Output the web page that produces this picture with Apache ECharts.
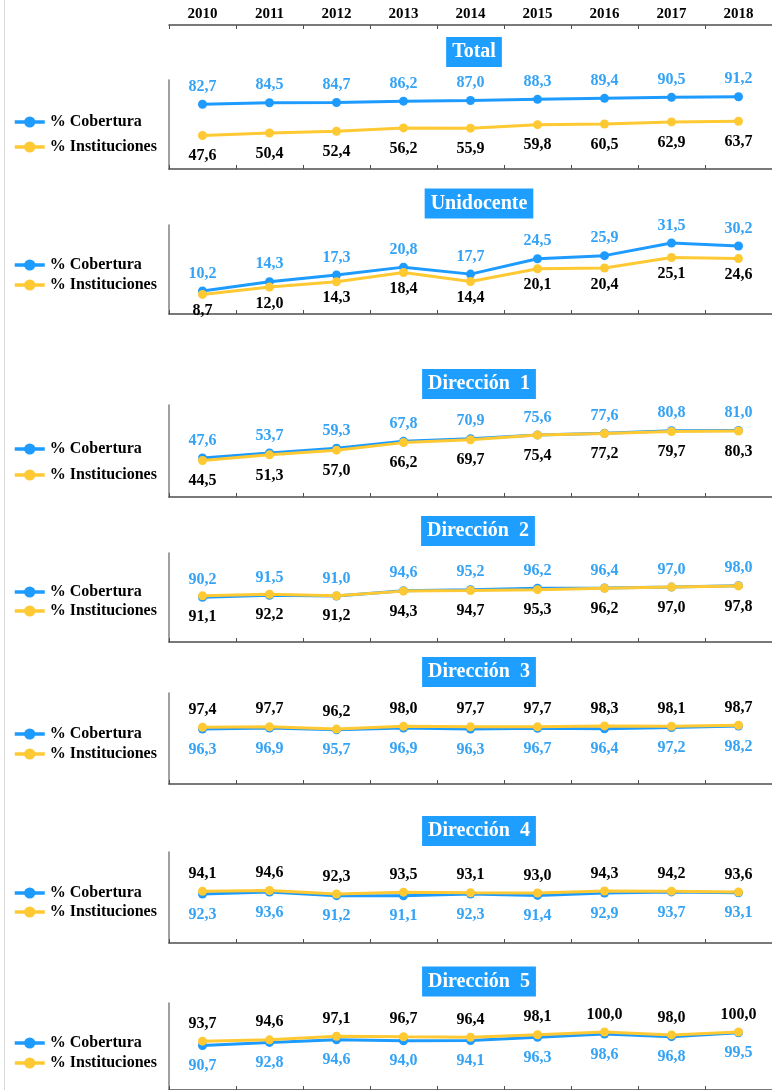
<!DOCTYPE html>
<html>
<head>
<meta charset="utf-8">
<script src="https://cdn.jsdelivr.net/npm/echarts@6/dist/echarts.min.js"></script>
<style>
html,body{margin:0;padding:0;background:#fff;}
#chart{width:772px;height:1090px;}
</style>
</head>
<body>
<div id="chart"></div>
<script>
// ---------- DATA ----------
const years = ['2010','2011','2012','2013','2014','2015','2016','2017','2018'];
const panelTitles = ['Total','Unidocente','Dirección  1','Dirección  2','Dirección  3','Dirección  4','Dirección  5'];
const seriesNames = ['% Cobertura','% Instituciones'];

const totalCobertura      = [82.7, 84.5, 84.7, 86.2, 87.0, 88.3, 89.4, 90.5, 91.2];
const totalInstituciones  = [47.6, 50.4, 52.4, 56.2, 55.9, 59.8, 60.5, 62.9, 63.7];
const uniCobertura        = [10.2, 14.3, 17.3, 20.8, 17.7, 24.5, 25.9, 31.5, 30.2];
const uniInstituciones    = [8.7, 12.0, 14.3, 18.4, 14.4, 20.1, 20.4, 25.1, 24.6];
const d1Cobertura         = [47.6, 53.7, 59.3, 67.8, 70.9, 75.6, 77.6, 80.8, 81.0];
const d1Instituciones     = [44.5, 51.3, 57.0, 66.2, 69.7, 75.4, 77.2, 79.7, 80.3];
const d2Cobertura         = [90.2, 91.5, 91.0, 94.6, 95.2, 96.2, 96.4, 97.0, 98.0];
const d2Instituciones     = [91.1, 92.2, 91.2, 94.3, 94.7, 95.3, 96.2, 97.0, 97.8];
const d3Cobertura         = [96.3, 96.9, 95.7, 96.9, 96.3, 96.7, 96.4, 97.2, 98.2];
const d3Instituciones     = [97.4, 97.7, 96.2, 98.0, 97.7, 97.7, 98.3, 98.1, 98.7];
const d4Cobertura         = [92.3, 93.6, 91.2, 91.1, 92.3, 91.4, 92.9, 93.7, 93.1];
const d4Instituciones     = [94.1, 94.6, 92.3, 93.5, 93.1, 93.0, 94.3, 94.2, 93.6];
const d5Cobertura         = [90.7, 92.8, 94.6, 94.0, 94.1, 96.3, 98.6, 96.8, 99.5];
const d5Instituciones     = [93.7, 94.6, 97.1, 96.7, 96.4, 98.1, 100.0, 98.0, 100.0];

const panelCobertura = [totalCobertura, uniCobertura, d1Cobertura, d2Cobertura, d3Cobertura, d4Cobertura, d5Cobertura];
const panelInstituciones = [totalInstituciones, uniInstituciones, d1Instituciones, d2Instituciones, d3Instituciones, d4Instituciones, d5Instituciones];

// ---------- LAYOUT ----------
const GRID_LEFT = 169, GRID_WIDTH = 609;
const panelGrid = [[80,89],[225,89],[405,92],[553,89],[693,91],[852,91],[1003,88]]; // [top,height]
const panelY = [[10,110],[0,39.5],[0,112],[60,120],[60,120],[60,120],[60,120]];
const titleCenterY = [52,203.5,384,531,672,831,981.5];
const titleCenterX = [468,473,473,472,473,473,473];
const legendPos = [[114,9],[257,4],[441,10],[584,3],[726,4],[885,3],[1035,4]]; // [top,gap]
const cobOnTop = [true,true,true,true,false,false,false];

const BLUE = '#1E9BFF', BLUE_LABEL = '#35A3F5', YELLOW = '#FFC934', TITLE_BG = '#1E9FFF';
const SERIF = '"Liberation Serif","Times New Roman",serif';
const fmt = p => p.value.toFixed(1).replace('.', ',');

const grid = [{left:GRID_LEFT, width:GRID_WIDTH, top:25, height:10}];
const xAxis = [{
  gridIndex:0, type:'category', data:years, position:'top', boundaryGap:true,
  axisLine:{show:true, onZero:false, lineStyle:{color:'#4d4d4d', width:1.5}},
  axisTick:{show:true, inside:true, length:4, interval:0, lineStyle:{color:'#4d4d4d', width:1}},
  axisLabel:{show:true, interval:0, margin:3, color:'#000', fontFamily:SERIF, fontWeight:'bold', fontSize:15}
}];
const yAxis = [{gridIndex:0, type:'value', show:false}];
const series = [];
const legend = [];
const title = [];

panelGrid.forEach((g, i) => {
  const gi = i + 1;
  grid.push({left:GRID_LEFT, width:GRID_WIDTH, top:g[0], height:g[1]});
  xAxis.push({
    gridIndex:gi, type:'category', data:years, position:'bottom', boundaryGap:true,
    axisLine:{show:true, onZero:false, lineStyle:{color:'#4d4d4d', width:1.5}},
    axisTick:{show:true, inside:true, length:4, interval:0, lineStyle:{color:'#4d4d4d', width:1}},
    axisLabel:{show:false}
  });
  yAxis.push({
    gridIndex:gi, type:'value', min:panelY[i][0], max:panelY[i][1],
    axisLine:{show:true, onZero:false, lineStyle:{color:'#808080', width:1.5}},
    axisTick:{show:false}, axisLabel:{show:false}, splitLine:{show:false}
  });
  const top = cobOnTop[i];
  series.push({
    name:seriesNames[0], type:'line', xAxisIndex:gi, yAxisIndex:gi, data:panelCobertura[i],
    symbol:'circle', symbolSize:9, z:2,
    lineStyle:{color:BLUE, width:3}, itemStyle:{color:BLUE},
    label:{show:true, position: top ? 'top' : 'bottom', distance: top ? 5 : 8, formatter:fmt,
      color:BLUE_LABEL, fontFamily:SERIF, fontWeight:'bold', fontSize:16}
  });
  series.push({
    name:seriesNames[1], type:'line', xAxisIndex:gi, yAxisIndex:gi, data:panelInstituciones[i],
    symbol:'circle', symbolSize:9, z:3,
    lineStyle:{color:YELLOW, width:3}, itemStyle:{color:YELLOW},
    label:{show:true, position: top ? 'bottom' : 'top', distance: top ? (i === 1 ? 4 : 8) : 5, formatter:fmt,
      color:'#000', fontFamily:SERIF, fontWeight:'bold', fontSize:16}
  });
  legend.push({
    data:seriesNames, orient:'vertical', left:13, top:legendPos[i][0], itemGap:legendPos[i][1],
    padding:0, itemWidth:30, itemHeight:14, selectedMode:false,
    lineStyle:{width:3.5},
    textStyle:{color:'#000', fontFamily:SERIF, fontWeight:'bold', fontSize:16, lineHeight:16}
  });
  title.push({
    text:panelTitles[i], left:titleCenterX[i], textAlign:'center', top:titleCenterY[i]-15,
    backgroundColor:TITLE_BG, padding:[4,6,4,6], itemGap:0,
    textStyle:{color:'#fff', fontFamily:SERIF, fontWeight:'bold', fontSize:20, lineHeight:22}
  });
});

const chart = echarts.init(document.getElementById('chart'), null, {renderer:'canvas'});
chart.setOption({
  animation:false,
  backgroundColor:'#fff',
  title, legend, grid, xAxis, yAxis, series,
  graphic:[{type:'line', shape:{x1:4.5, y1:0, x2:4.5, y2:1090}, style:{stroke:'#d9d9d9', lineWidth:1}}]
});
</script>
</body>
</html>
